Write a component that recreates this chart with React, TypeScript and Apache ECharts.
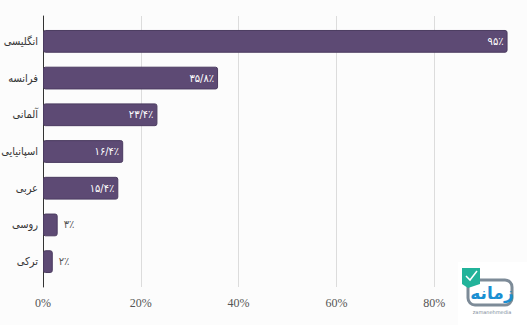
import React, { useEffect, useRef } from "react";
import * as echarts from "echarts";

const categories = ["انگلیسی", "فرانسه", "آلمانی", "اسپانیایی", "عربی", "روسی", "ترکی"];
const values = [95, 35.8, 23.4, 16.4, 15.4, 3, 2];
const xTickLabels = [0, 20, 40, 60, 80];

const faDigits = "۰۱۲۳۴۵۶۷۸۹";
const toFa = (v: number) =>
  String(v)
    .replace(/\d/g, (d) => faDigits[Number(d)])
    .replace(".", "/") + "٪";

export default function App() {
  const ref = useRef<HTMLDivElement>(null);
  useEffect(() => {
    if (!ref.current) return;
    const chart = echarts.init(ref.current, undefined, { renderer: "svg" });
    const persianFont = "DejaVu Sans Condensed, DejaVu Sans, sans-serif";
    chart.setOption({
      animation: false,
      backgroundColor: "#fcfcfc",
      grid: [
        { left: 43, right: -5, top: 16, bottom: 38, outerBoundsMode: "none", containLabel: false },
        { left: 43, right: -5, top: 23, bottom: 45, outerBoundsMode: "none", containLabel: false },
      ],
      xAxis: [
        {
          gridIndex: 0,
          type: "value",
          min: 0,
          max: 100,
          interval: 20,
          axisLine: { show: false },
          axisTick: { show: false },
          splitLine: { show: true, lineStyle: { color: "#dcdcdc", width: 1 } },
          axisLabel: {
            show: true,
            margin: 10,
            color: "#555",
            fontSize: 12,
            fontFamily: "Liberation Serif, serif",
            formatter: (v: number) => (xTickLabels.includes(v) ? v + "%" : ""),
          },
        },
        {
          gridIndex: 1,
          type: "value",
          min: 0,
          max: 100,
          interval: 20,
          show: false,
        },
      ],
      yAxis: [
        {
          gridIndex: 0,
          type: "value",
          min: 0,
          max: 1,
          axisLine: { show: true, lineStyle: { color: "#333", width: 1 } },
          axisTick: { show: false },
          axisLabel: { show: false },
          splitLine: { show: false },
        },
        {
          gridIndex: 1,
          type: "category",
          inverse: true,
          data: categories,
          axisLine: { show: false },
          axisTick: { show: false },
          splitLine: { show: false },
          axisLabel: {
            margin: 5,
            color: "#333",
            fontSize: 11,
            fontFamily: persianFont,
          },
        },
      ],
      series: [
        {
          type: "bar",
          xAxisIndex: 1,
          yAxisIndex: 1,
          barWidth: "62%",
          itemStyle: {
            color: "#5d4a74",
            borderColor: "#4b3b60",
            borderWidth: 1,
            borderRadius: 2,
          },
          data: values.map((v) => ({
            value: v,
            label: {
              show: true,
              position: v > 10 ? "insideRight" : "right",
              distance: v > 10 ? 4 : 6,
              color: v > 10 ? "#ffffff" : "#555",
              fontSize: 11,
              fontFamily: persianFont,
              formatter: () => toFa(v),
            },
          })),
        },
      ],
      graphic: [
        {
          type: "group",
          left: 458,
          top: 262,
          z: 100,
          children: [
            { type: "rect", shape: { x: 0, y: 0, width: 69, height: 63 }, style: { fill: "#ffffff" } },
            {
              type: "rect",
              shape: { x: 10, y: 18, width: 44, height: 25, r: 7 },
              style: { fill: "none", stroke: "#7d8b98", lineWidth: 3 },
            },
            {
              type: "polygon",
              shape: { points: [[4, 6], [22, 6], [22, 22], [10, 26], [4, 22]] },
              style: { fill: "#22b39a" },
            },
            {
              type: "polyline",
              shape: { points: [[8, 14], [12, 18], [19, 9]] },
              style: { stroke: "#ffffff", lineWidth: 1.5, fill: "none" },
            },
            {
              type: "text",
              style: {
                x: 34,
                y: 31,
                text: "زمانه",
                fill: "#1b8fd2",
                font: "bold 17px DejaVu Sans, sans-serif",
                align: "center",
                verticalAlign: "middle",
              },
            },
            {
              type: "text",
              style: {
                x: 34,
                y: 50,
                text: "zamanehmedia",
                fill: "#7d8b98",
                font: "5px DejaVu Sans, sans-serif",
                align: "center",
                verticalAlign: "middle",
              },
            },
          ],
        },
      ],
    });
    return () => chart.dispose();
  }, []);
  return <div ref={ref} style={{ width: 527, height: 325, position: "absolute", left: 0, top: 0 }} />;
}
